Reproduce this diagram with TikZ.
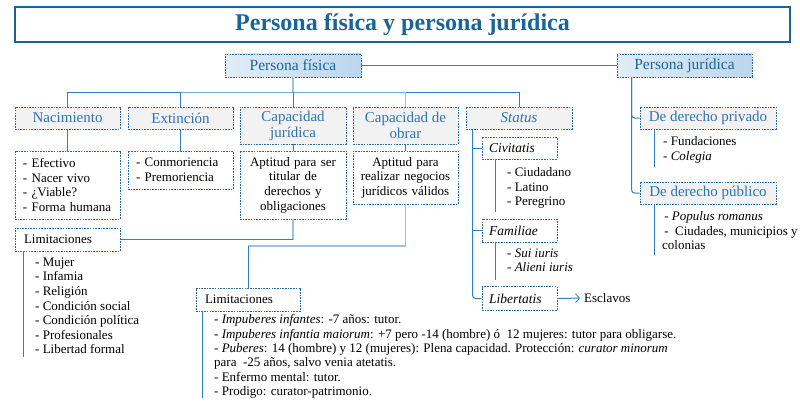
\documentclass[tikz,border=0pt]{standalone}
\usepackage{fontspec}
\setmainfont{Liberation Serif}
\usetikzlibrary{arrows.meta}
\definecolor{titlec}{HTML}{1B6496}
\definecolor{boxc}{HTML}{2367A3}
\definecolor{headc}{HTML}{2E74B5}
\definecolor{linec}{HTML}{2E80C0}
\definecolor{lightc}{HTML}{9CC2E5}
\definecolor{grayf}{HTML}{F2F2F2}
\definecolor{pfl}{HTML}{E1EDF8}
\definecolor{pfr}{HTML}{BCD6EE}
\newcommand{\bodyfont}{\fontsize{13}{14.6}\selectfont}
\tikzset{
  dsh/.style={dash pattern=on 1.6pt off 1.1pt},
  hd/.style={draw=boxc, dsh, line width=0.8pt, fill=grayf, text=headc,
    font=\fontsize{15}{16}\selectfont, inner sep=0pt, align=center},
  pbox/.style={draw=boxc, dsh, line width=0.8pt, left color=pfl, right color=pfr,
    text=titlec, font=\fontsize{15.5}{17}\selectfont, inner sep=0pt,
    minimum width=136pt, minimum height=23pt},
  ds/.style={draw=boxc, dsh, line width=0.8pt, fill=white, font=\bodyfont, inner sep=0pt},
  sub/.style={draw=boxc, dsh, line width=0.8pt, fill=white, font=\fontsize{13.5}{15}\selectfont\itshape,
    inner sep=0pt, minimum width=75pt, text width=61pt, align=left},
  ln/.style={draw=linec, line width=1pt},
  lt/.style={draw=lightc, line width=1.6pt},
  tx/.style={font=\bodyfont, inner sep=0pt, align=left, anchor=north west},
}
\begin{document}
\begin{tikzpicture}[x=1pt,y=-1pt]
\useasboundingbox (0,0) rectangle (800,404);
% title
\node[draw=titlec, line width=1.2pt, minimum width=775pt, minimum height=35pt, inner sep=0pt,
  text=titlec, font=\fontsize{24}{26}\selectfont\bfseries] (title) at (402.5,24.5)
  {Persona física y persona jurídica};
% top boxes
\node[pbox] (pf) at (293,65.5) {Persona física};
\node[pbox, minimum width=135pt] (pj) at (684.5,65.5) {Persona jurídica};
% second row
\node[hd, minimum width=105pt, minimum height=22pt] (nac) at (67.5,118) {Nacimiento};
\node[hd, minimum width=105pt, minimum height=22pt] (ext) at (180.5,118) {Extinción};
\node[hd, minimum width=106pt, minimum height=37pt] (cj) at (293,125.5) {Capacidad\\jurídica};
\node[hd, minimum width=105pt, minimum height=37pt] (co) at (405.5,125.5) {Capacidad de\\obrar};
\node[hd, minimum width=106pt, minimum height=22pt, font=\fontsize{15}{16}\selectfont\itshape] (st) at (519,118) {Status};
% third row
\node[ds, minimum width=105pt, minimum height=68pt, text width=89pt, align=left] (nacd) at (67.5,185)
  {- Efectivo\\- Nacer vivo\\- ¿Viable?\\- Forma humana};
\node[ds, minimum width=105pt, minimum height=38pt, text width=89pt, align=left] (extd) at (180.5,170)
  {- Conmoriencia\\- Premoriencia};
\node[ds, minimum width=106pt, minimum height=68pt, text width=100pt, align=center] (cjd) at (293,185)
  {Aptitud para ser\\titular de\\derechos y\\obligaciones};
\node[ds, minimum width=105pt, minimum height=53pt, text width=100pt, align=center] (cod) at (405.5,177.5)
  {Aptitud para\\realizar negocios\\jurídicos válidos};
% limitaciones
\node[ds, minimum width=105pt, minimum height=23pt, text width=87pt, align=left] (lim1) at (67.5,239.5) {Limitaciones};
\node[ds, minimum width=104pt, minimum height=23pt, text width=86pt, align=left] (lim2) at (248,299.5) {Limitaciones};
\node[tx] (lim1l) at (35,257.5) {- Mujer\\- Infamia\\- Religión\\- Condición social\\- Condición política\\- Profesionales\\- Libertad formal};
\node[tx, font=\fontsize{13}{14.3}\selectfont] (lim2l) at (214,314.5)
  {- \textit{Impuberes infantes}: -7 años: tutor.\\
   - \textit{Impuberes infantia maiorum}: +7 pero -14 (hombre) ó~ 12 mujeres: tutor para obligarse.\\
   - \textit{Puberes}: 14 (hombre) y 12 (mujeres): Plena capacidad. Protección: \textit{curator minorum}\\
   para~ -25 años, salvo venia atetatis.\\
   - Enfermo mental: tutor.\\
   - Prodigo: curator-patrimonio.};
% status children
\node[sub, minimum height=22pt] (civ) at (519.5,148) {Civitatis};
\node[sub, minimum height=23pt] (fam) at (519.5,230.5) {Familiae};
\node[sub, minimum height=24pt] (lib) at (519.5,298.5) {Libertatis};
\node[tx] (civl) at (507,167.5) {- Ciudadano\\- Latino\\- Peregrino};
\node[tx] (faml) at (507,248.5) {- \textit{Sui iuris}\\- \textit{Alieni iuris}};
\node[font=\bodyfont, inner sep=0pt, anchor=west] (esc) at (584,298) {Esclavos};
% persona juridica children
\node[hd, minimum width=136pt, minimum height=22pt] (priv) at (708,118) {De derecho privado};
\node[hd, minimum width=136pt, minimum height=22pt] (pub) at (708,193) {De derecho público};
\node[tx] (privl) at (663,136.5) {- Fundaciones\\- \textit{Colegia}};
\node[tx] (publ) at (662,211.5) {\,- \textit{Populus romanus}\\\,-~ Ciudades, municipios y\\colonias};
% connectors
\coordinate (bus) at (293,92);
\draw[ln] (pf.east) -- (pj.west);
\draw[lt] (pf.south) -- (bus);
\draw[ln] (nac.north) |- (bus) -- (st.north |- bus) -- (st.north);
\draw[ln] (ext.north) -- (ext.north |- bus);
\draw[ln] (cj.north) -- (bus);
\draw[lt] (co.north) -- (co.north |- bus);
\draw[ln] (nac.south) -- (nacd.north);
\draw[ln] (ext.south) -- (extd.north);
\draw[ln] (cj.south) -- (cjd.north);
\draw[ln] (co.south) -- (cod.north);
\draw[lt] (cjd.south) -- (cjd.south |- lim1.east);
\draw[ln] (cjd.south |- lim1.east) -- (lim1.east);
\coordinate (k) at (405.5,246);
\draw[lt] (cod.south) -- (k) -- (k -| lim2.north);
\draw[ln] (k -| lim2.north) -- (lim2.north);
\draw[ln] ([xshift=9pt]lim1.south west) -- +(0,106);
\draw[ln] ([xshift=7pt]lim2.south west) -- +(0,87);
% status branches
\coordinate (sv) at ([xshift=7pt]st.south west);
\draw[ln, rounded corners=3pt] (sv) |- (lib.west);
\draw[ln] (sv |- civ.west) -- (civ.west);
\draw[ln] (sv |- fam.west) -- (fam.west);
\draw[ln] ([xshift=14pt]civ.south west) -- +(0,53);
\draw[ln] ([xshift=14pt]fam.south west) -- +(0,38);
\draw[ln, shorten >=4pt, -{Straight Barb[length=4pt,width=9pt,line width=0.8pt]}] (lib.east) -- (esc.west);
% persona juridica branches
\coordinate (jv) at ([xshift=15pt]pj.south west);
\draw[ln, rounded corners=3pt] (jv) |- (pub.west);
\draw[ln, rounded corners=3pt] (jv) |- (priv.west);
\draw[ln] ([xshift=15pt]priv.south west) -- +(0,38);
\draw[ln] ([xshift=15pt]pub.south west) -- +(0,51);
\end{tikzpicture}
\end{document}
